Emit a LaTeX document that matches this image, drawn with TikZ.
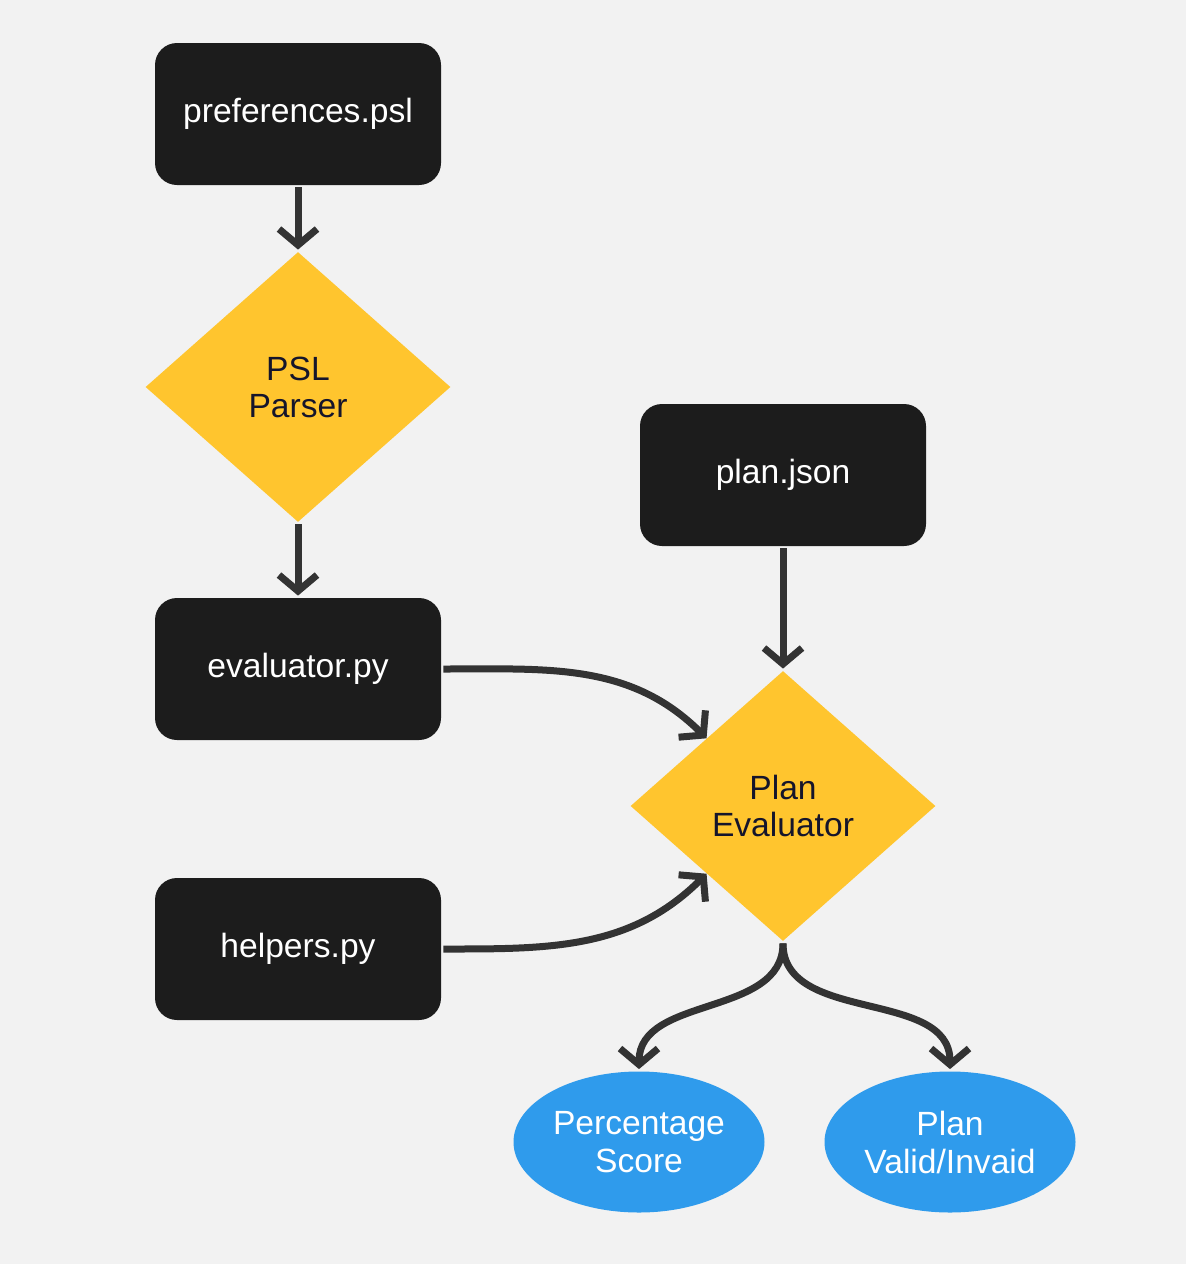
\documentclass[tikz,border=0pt]{standalone}
\usepackage{fontspec}
\setmainfont{Liberation Sans}
\usetikzlibrary{arrows.meta,shapes.geometric}
\definecolor{bgpage}{HTML}{F2F2F2}
\definecolor{boxblack}{HTML}{1C1C1C}
\definecolor{diayellow}{HTML}{FFC52E}
\definecolor{diatext}{HTML}{15152B}
\definecolor{ovalblue}{HTML}{2F9BEC}
\definecolor{linegray}{HTML}{333333}

\begin{document}
\begin{tikzpicture}[x=0.5pt,y=-0.5pt,
  >={Straight Barb[length=8pt,width=19pt]},
  filebox/.style={fill=boxblack,rounded corners=11pt,minimum width=143pt,minimum height=71pt,
    text=white,font=\fontsize{16.8}{20}\selectfont},
  decide/.style={diamond,fill=diayellow,minimum width=152.5pt,minimum height=135pt,inner sep=0pt,
    shape aspect=1.13,text=diatext,align=center,font=\fontsize{16.8}{18.5}\selectfont},
  outcome/.style={ellipse,fill=ovalblue,minimum width=125.5pt,minimum height=70.5pt,inner sep=0pt,
    text=white,align=center,font=\fontsize{16.8}{19}\selectfont},
  link/.style={->,draw=linegray,line width=3.5pt}]
\fill[bgpage] (0,0) rectangle (1186,1264);
\useasboundingbox (0,0) rectangle (1186,1264);
% inputs and parser
\node[filebox] (pref) at (298,114) {preferences.psl};
\node[decide] (psl) at (298,387) {PSL\\Parser};
\node[filebox] (evalpy) at (298,669) {evaluator.py};
\node[filebox] (helpers) at (298,949) {helpers.py};
\node[filebox] (planjson) at (783,475) {plan.json};
\node[decide] (planeval) at (783,806) {Plan\\Evaluator};
% results
\node[outcome] (score) at (639,1142) {Percentage\\Score};
\node[outcome] (valid) at (950,1142) {Plan\\Valid/Invaid};
\draw[link,shorten <=1pt,shorten >=1pt] (pref) -- (psl);
\draw[link,shorten <=1pt,shorten >=1pt] (psl) -- (evalpy);
\draw[link,shorten <=1pt,shorten >=1pt] (planjson) -- (planeval);
\draw[link,shorten <=1pt] (evalpy.east) to[out=0,in=135] (planeval.north west);
\draw[link,shorten <=1pt] (helpers.east) to[out=0,in=225] (planeval.south west);
\draw[link,shorten <=1pt,shorten >=1pt] (planeval.south) to[out=-90,in=90] (score.north);
\draw[link,shorten <=1pt,shorten >=1pt] (planeval.south) to[out=-90,in=90] (valid.north);
\end{tikzpicture}
\end{document}
